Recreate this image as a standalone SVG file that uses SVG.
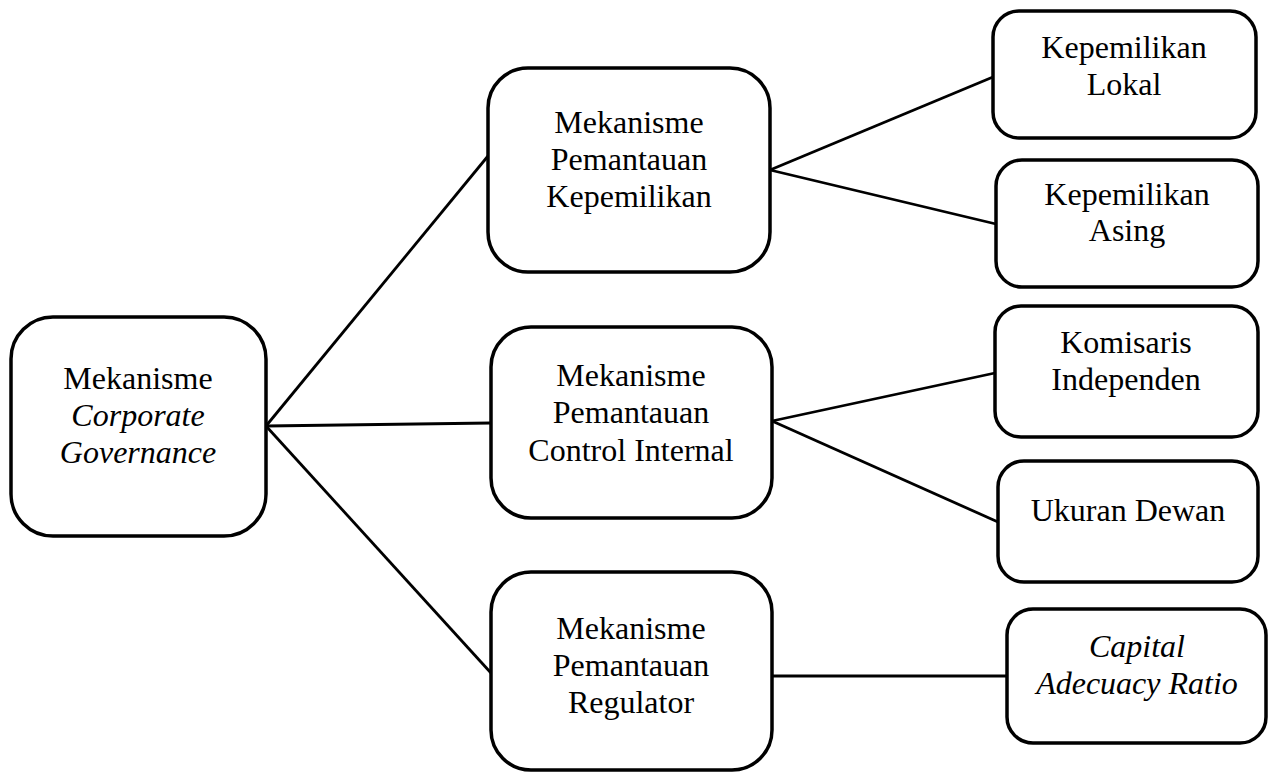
<svg xmlns="http://www.w3.org/2000/svg" width="1269" height="774" viewBox="0 0 1269 774">
<style>
.box{fill:#fff;stroke:#000;stroke-width:3.5}
.t{font-family:"Liberation Serif","Times New Roman",serif;font-size:32px;fill:#000;text-anchor:middle}
.i{font-style:italic}
.c{stroke:#000;stroke-width:2.8;fill:none}
</style>
<rect width="1269" height="774" fill="#fff"/>
<g id="connectors">
<line class="c" x1="266" y1="426" x2="488" y2="156"/>
<line class="c" x1="266" y1="426" x2="491" y2="423"/>
<line class="c" x1="266" y1="426" x2="491" y2="673"/>
<line class="c" x1="770" y1="170" x2="993" y2="77"/>
<line class="c" x1="770" y1="170" x2="996" y2="224"/>
<line class="c" x1="772" y1="421" x2="995" y2="373"/>
<line class="c" x1="772" y1="421" x2="998" y2="522"/>
<line class="c" x1="772" y1="676" x2="1007" y2="676"/>
</g>
<g id="root">
<rect class="box" x="11" y="317" width="255" height="219" rx="42"/>
<text class="t" x="138" y="389">Mekanisme</text>
<text class="t i" x="138" y="426">Corporate</text>
<text class="t i" x="138" y="463">Governance</text>
</g>
<g id="kepemilikan">
<rect class="box" x="488" y="68" width="282" height="204" rx="40"/>
<text class="t" x="629" y="133">Mekanisme</text>
<text class="t" x="629" y="170">Pemantauan</text>
<text class="t" x="629" y="207">Kepemilikan</text>
</g>
<g id="control">
<rect class="box" x="491" y="327" width="281" height="191" rx="40"/>
<text class="t" x="631" y="386">Mekanisme</text>
<text class="t" x="631" y="423">Pemantauan</text>
<text class="t" x="631" y="461">Control Internal</text>
</g>
<g id="regulator">
<rect class="box" x="491" y="572" width="281" height="198" rx="40"/>
<text class="t" x="631" y="639">Mekanisme</text>
<text class="t" x="631" y="676">Pemantauan</text>
<text class="t" x="631" y="713">Regulator</text>
</g>
<g id="lokal">
<rect class="box" x="993" y="11" width="263" height="127" rx="26"/>
<text class="t" x="1124" y="58">Kepemilikan</text>
<text class="t" x="1124" y="95">Lokal</text>
</g>
<g id="asing">
<rect class="box" x="996" y="160" width="262" height="127" rx="26"/>
<text class="t" x="1127" y="205">Kepemilikan</text>
<text class="t" x="1127" y="241">Asing</text>
</g>
<g id="komisaris">
<rect class="box" x="995" y="306" width="263" height="131" rx="26"/>
<text class="t" x="1126" y="353">Komisaris</text>
<text class="t" x="1126" y="390">Independen</text>
</g>
<g id="ukuran">
<rect class="box" x="998" y="461" width="260" height="121" rx="26"/>
<text class="t" x="1128" y="521">Ukuran Dewan</text>
</g>
<g id="car">
<rect class="box" x="1007" y="609" width="259" height="134" rx="26"/>
<text class="t i" x="1137" y="657">Capital</text>
<text class="t i" x="1137" y="694">Adecuacy Ratio</text>
</g>
</svg>
